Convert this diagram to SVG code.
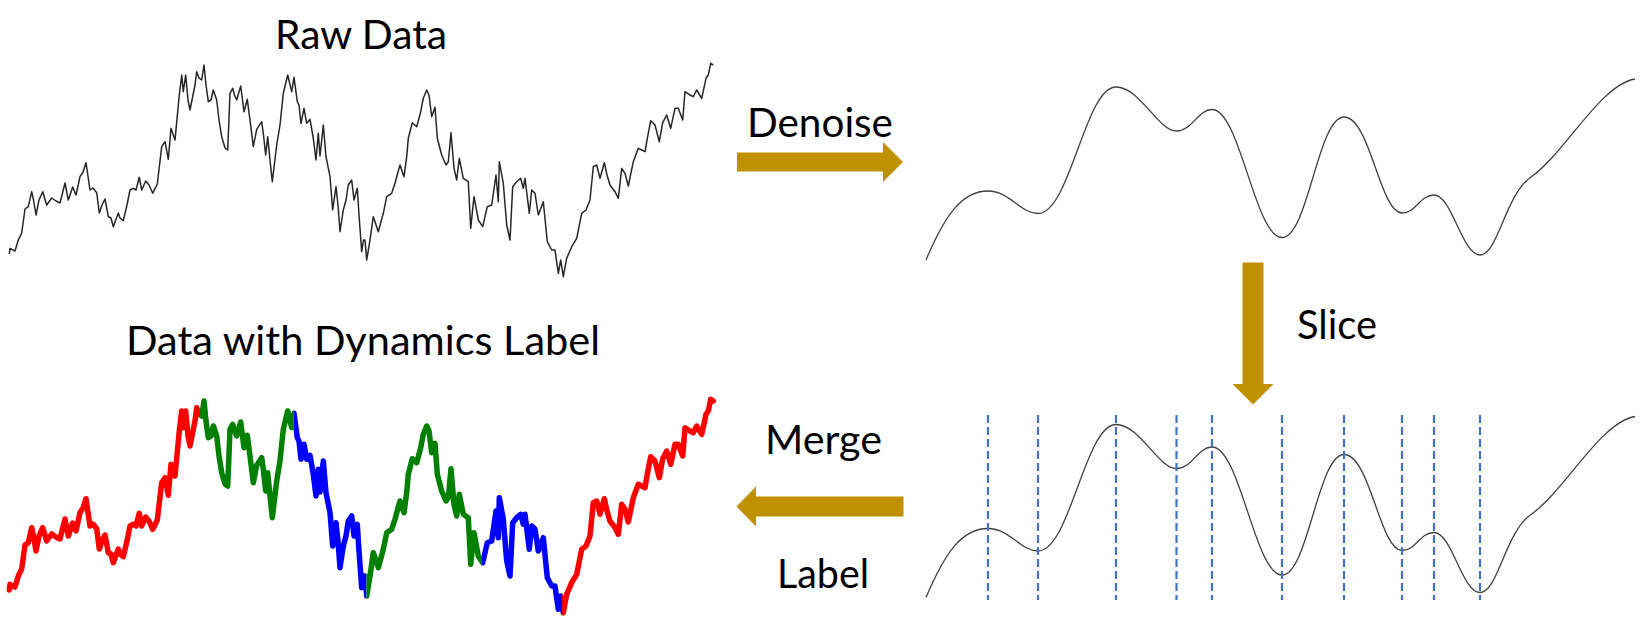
<svg xmlns="http://www.w3.org/2000/svg" xmlns:xlink="http://www.w3.org/1999/xlink" width="1644" height="620" viewBox="0 0 1644 620">
<style>
.t{font-family:Lato,"Liberation Sans",sans-serif;font-size:40px;fill:#000;text-anchor:middle}
.arrow{fill:#BF9000}
.smooth{fill:none;stroke:#404040;stroke-width:1.3}
.raw{fill:none;stroke:#262626;stroke-width:1.5;stroke-linejoin:round}
.lab{fill:none;stroke-width:5.5;stroke-linejoin:round;stroke-linecap:round}
.cut{stroke:#4472C4;stroke-width:2.2;stroke-dasharray:8 4}
</style>
<defs>
<polyline id="data" points="9.3,254 10,248.3 15,251 18.3,240 21.7,233 25,209 28.3,206.7 31.7,191.7 33.5,200 36,215 39,200 42.7,191.7 46.7,205 51.7,198 56,201 60,203 65,183 68.3,200 72.7,187 76,195 80,176.7 83,172 86,162.7 90,190 93,188 96.7,192.7 99.3,213 102,205 105,199 108.3,216.7 111,218 113.3,226.7 118.3,213 120,218 123.3,220.7 127,205 130,190 133.3,188.3 136,190 139.3,177.3 141.7,190 145.7,181 149,185 152.7,193.3 157.3,184 161.7,146.7 165,141.7 168.3,159.3 171,128.3 175,140 179.3,95 181.7,75 183.3,91.7 185.7,75 188,100 190,110 195,85 196.7,71.7 199,78 201.7,80 204,65 206,85 208.3,101.7 211,100 213.3,90 216.7,100 219,120 221.7,136.7 225,148 227.7,150 230,93.3 232.7,88.3 234.5,95 236.7,100 240.7,86 244,111.7 247.3,99.3 250,120 253.3,146.7 256.7,129.3 261.7,121.7 263.5,135 265.7,155 267.7,136.7 270,160 272.3,181.7 276.7,145 280,125 283.3,93.3 287.7,75 291.7,91.7 294,77.3 297.3,101.7 299,105 301,123.3 304,108.3 306.7,123.3 310,119.3 313.3,138.3 316,160 318.3,133.3 320,156 323.3,125 326,156.7 330,176.7 332.7,210 336,186.7 338,205 340,231.7 343.3,210 346,200 348.3,185 351.7,180 354,200 357.3,188.3 359,215 361.7,251.7 363.5,240 365,240 366.7,260 370,240 373.3,216.7 378.3,231.7 383.3,213.3 386.7,196.7 391.7,193.3 395,183.3 398,172 400,165 404,176.7 406.7,156.7 408.3,138.3 412.3,122.7 416.7,126.7 420.7,111.7 423.3,98.3 426.7,90 429,95 431.7,116.7 435,107.3 437.3,138.3 441.7,155 446,165 448.3,161.7 451,132.7 454,168.3 456.7,180 459.3,158.3 463.3,178.3 468.3,181.7 470.7,228.3 474,196.7 478.3,220 482.7,226.7 487.3,206.7 491.7,205 496,175 498.3,201.7 499.3,161.7 503.3,183.3 506.7,225 510,240 512.7,186.7 516.7,181.7 520.7,178.3 523.3,188.3 525,178.3 529.3,213.3 531.7,190 535,193.3 538.3,215 543.3,201.7 547.3,241.7 551.7,250 555,250 558.3,273.3 560.7,260 563.3,276.7 566.7,258.3 571.7,246.7 576.7,238.3 581.7,213.3 586,210 590,200 593.3,166.7 596.7,165 600,178.3 604.3,162.7 607,175 610,185 615,191.7 618.3,198.3 621.7,168.3 625,173.3 628.3,186 633.3,161.7 638.3,148.3 641.7,150 645,151.7 647.3,138.3 650.7,120.7 655,125 659.3,141.7 662.7,122.7 666.7,115 670.7,128.3 675,108.3 678.3,108.3 682.7,120 685,91.7 690,95 693.3,96.7 696.7,90 701.7,98.3 706,78.3 708.3,75 710.7,63.3 713.3,65"/>
<path id="smoothcurve" d="M926,260 C945,215 962,191 988,191 C1010,191 1020,213.5 1038,213.5 C1070,213.5 1085,87 1116,87 C1140,87 1158,131 1176.5,131 C1192,131 1198,109.5 1212,109.5 C1240,109.5 1255,237.5 1282,237.5 C1308,237.5 1318,117 1344,117 C1370,117 1380,213 1402,213 C1416,213 1420,195 1434,195 C1452,195 1462,255 1480,255 C1498,255 1505,195 1531,177 C1565,153 1600,85 1635,79"/>
<clipPath id="c1" clipPathUnits="userSpaceOnUse"><rect x="0" y="0" width="200" height="400"/></clipPath>
<clipPath id="c2" clipPathUnits="userSpaceOnUse"><rect x="200" y="0" width="93.5" height="400"/></clipPath>
<clipPath id="c3" clipPathUnits="userSpaceOnUse"><rect x="293.5" y="0" width="73" height="400"/></clipPath>
<clipPath id="c4" clipPathUnits="userSpaceOnUse"><rect x="366.5" y="0" width="115.5" height="400"/></clipPath>
<clipPath id="c5" clipPathUnits="userSpaceOnUse"><rect x="482" y="0" width="80" height="400"/></clipPath>
<clipPath id="c6" clipPathUnits="userSpaceOnUse"><rect x="562" y="0" width="200" height="400"/></clipPath>
</defs>

<g id="raw-data">
<text class="t" x="361" y="48.5" textLength="172" lengthAdjust="spacingAndGlyphs">Raw Data</text>
<use xlink:href="#data" class="raw"/>
</g>

<g id="denoised">
<use xlink:href="#smoothcurve" class="smooth"/>
</g>

<g id="sliced">
<use xlink:href="#smoothcurve" class="smooth" transform="translate(0,337.5)"/>
<g class="cut">
<line x1="988" y1="415" x2="988" y2="600"/>
<line x1="1038" y1="415" x2="1038" y2="600"/>
<line x1="1116" y1="415" x2="1116" y2="600"/>
<line x1="1176.5" y1="415" x2="1176.5" y2="600"/>
<line x1="1212" y1="415" x2="1212" y2="600"/>
<line x1="1282" y1="415" x2="1282" y2="600"/>
<line x1="1344" y1="415" x2="1344" y2="600"/>
<line x1="1402" y1="415" x2="1402" y2="600"/>
<line x1="1434" y1="415" x2="1434" y2="600"/>
<line x1="1480" y1="415" x2="1480" y2="600"/>
</g>
</g>

<g id="labeled-data">
<text class="t" x="363" y="355" textLength="474" lengthAdjust="spacingAndGlyphs">Data with Dynamics Label</text>
<g transform="translate(0,336)">
<use xlink:href="#data" class="lab" stroke="#FF0000" clip-path="url(#c1)"/>
<use xlink:href="#data" class="lab" stroke="#008000" clip-path="url(#c2)"/>
<use xlink:href="#data" class="lab" stroke="#0000FF" clip-path="url(#c3)"/>
<use xlink:href="#data" class="lab" stroke="#008000" clip-path="url(#c4)"/>
<use xlink:href="#data" class="lab" stroke="#0000FF" clip-path="url(#c5)"/>
<use xlink:href="#data" class="lab" stroke="#FF0000" clip-path="url(#c6)"/>
</g>
</g>

<g id="connectors">
<g id="denoise-arrow">
<polygon class="arrow" points="737,152.5 883,152.5 883,142 903,162 883,182 883,171.5 737,171.5"/>
<text class="t" x="820" y="136.7" textLength="146" lengthAdjust="spacingAndGlyphs">Denoise</text>
</g>
<g id="slice-arrow">
<polygon class="arrow" points="1242.5,262.5 1263.5,262.5 1263.5,384 1273.5,384 1253,404.5 1232.5,384 1242.5,384"/>
<text class="t" x="1337" y="339" textLength="80" lengthAdjust="spacingAndGlyphs">Slice</text>
</g>
<g id="merge-arrow">
<polygon class="arrow" points="903.5,496.5 756,496.5 756,486.5 736.5,506.5 756,526.5 756,516.5 903.5,516.5"/>
<text class="t" x="823.5" y="454.3" textLength="117" lengthAdjust="spacingAndGlyphs">Merge</text>
<text class="t" x="823" y="588.3" textLength="92" lengthAdjust="spacingAndGlyphs">Label</text>
</g>
</g>
</svg>
